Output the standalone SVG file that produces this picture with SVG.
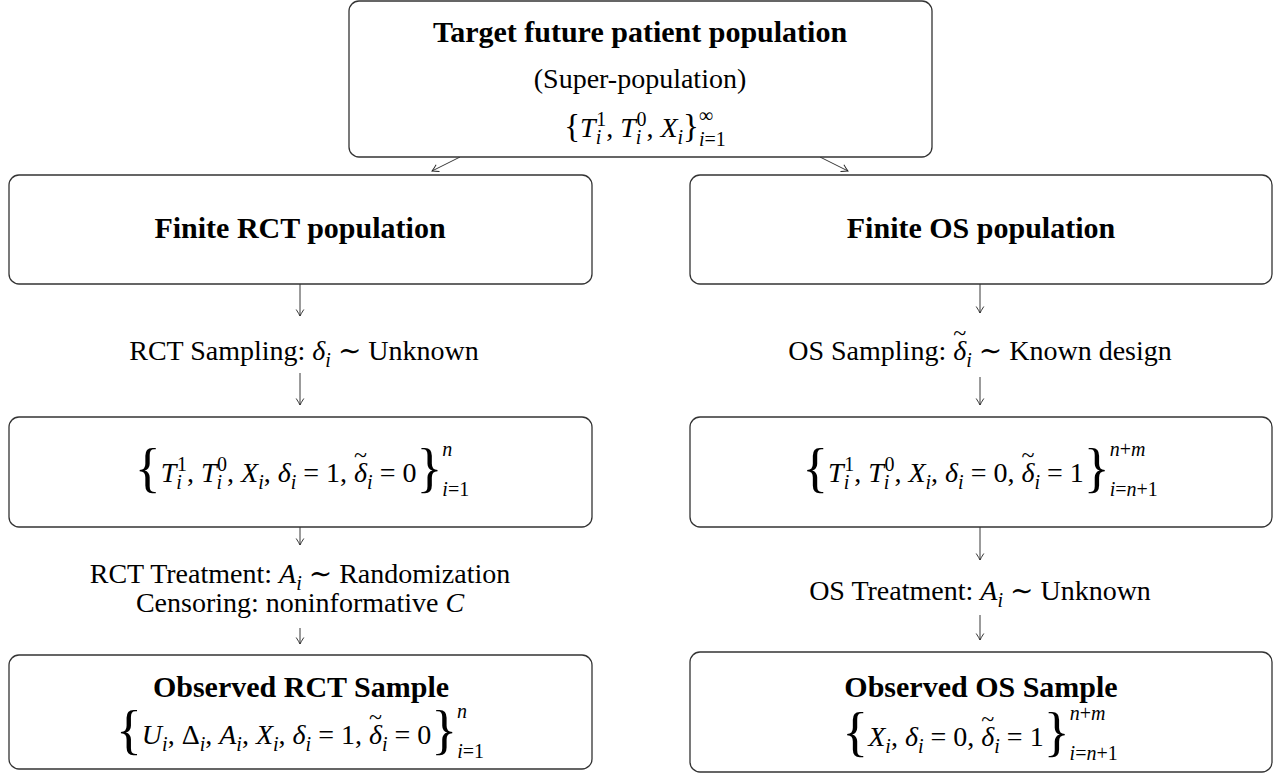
<svg xmlns="http://www.w3.org/2000/svg" width="1281" height="778" viewBox="0 0 1281 778">
<style>
text { font-family: "Liberation Serif","Times New Roman","DejaVu Serif",serif; font-size: 28px; fill: #000; }
.b { font-weight: bold; font-size: 30px; }
.i { font-style: italic; }
.s { font-size: 20px; }
.br { font-size: 54px; }
.br2 { font-size: 33px; }
.tl { font-size: 24px; }
.box { fill: #fff; stroke: #333; stroke-width: 1.3; }
.con line { stroke: #222; stroke-width: 0.9; marker-end: url(#ah); }
</style>
<defs>
<marker id="ah" viewBox="-8 -5 9 10" markerWidth="9" markerHeight="10" refX="0" refY="0" orient="auto" markerUnits="userSpaceOnUse">
<path d="M-6.5,-3.8 Q-2,-0.9 0,0 Q-2,0.9 -6.5,3.8" fill="none" stroke="#222" stroke-width="0.9"/>
</marker>
</defs>
<rect width="1281" height="778" fill="#fff"/>

<g class="con" id="connectors">
<line x1="460" y1="157" x2="432" y2="171"/>
<line x1="820" y1="157" x2="848" y2="171"/>
<line x1="300" y1="284" x2="300" y2="316"/>
<line x1="300" y1="373" x2="300" y2="405"/>
<line x1="300" y1="527" x2="300" y2="545"/>
<line x1="300" y1="628" x2="300" y2="644"/>
<line x1="980" y1="284" x2="980" y2="313"/>
<line x1="980" y1="377" x2="980" y2="405"/>
<line x1="980" y1="527" x2="980" y2="560"/>
<line x1="980" y1="615" x2="980" y2="640"/>
</g>

<g id="target">
<rect class="box" x="349" y="1" width="583" height="156" rx="10"/>
<text class="b" x="640" y="42" text-anchor="middle">Target future patient population</text>
<text x="640" y="88" text-anchor="middle">(Super-population)</text>
<text x="645" y="137" text-anchor="middle"><tspan class="br2">{</tspan><tspan class="i">T</tspan><tspan class="s i" dy="7">i</tspan><tspan class="s" dx="-5" dy="-18">1</tspan><tspan dy="11">, </tspan><tspan class="i">T</tspan><tspan class="s i" dy="7">i</tspan><tspan class="s" dx="-5" dy="-18">0</tspan><tspan dy="11">, </tspan><tspan class="i">X</tspan><tspan class="s i" dy="7">i</tspan><tspan class="br2" dy="-7">}</tspan><tspan class="s i" dy="9">i</tspan><tspan class="s">=1</tspan><tspan class="s" dx="-27" dy="-24">∞</tspan></text>
</g>

<g id="rct-pop">
<rect class="box" x="9" y="175" width="583" height="109" rx="10"/>
<text class="b" x="300" y="238" text-anchor="middle">Finite RCT population</text>
</g>

<g id="os-pop">
<rect class="box" x="690" y="175" width="582" height="109" rx="10"/>
<text class="b" x="981" y="238" text-anchor="middle">Finite OS population</text>
</g>

<g id="rct-sampling">
<text x="304" y="360" text-anchor="middle">RCT Sampling:  <tspan class="i">δ</tspan><tspan class="s i" dy="7">i</tspan><tspan dy="-7"> ∼ Unknown</tspan></text>
</g>

<g id="os-sampling">
<text x="980" y="360" text-anchor="middle">OS Sampling:  <tspan class="i">δ</tspan><tspan class="tl" dx="-13" dy="-19">~</tspan><tspan class="s i" dy="26">i</tspan><tspan dy="-7"> ∼ Known design</tspan></text>
</g>

<g id="rct-full">
<rect class="box" x="9" y="417" width="583" height="110" rx="10"/>
<text x="302" y="482" text-anchor="middle"><tspan class="br" dy="4">{</tspan><tspan class="i" dy="-4">T</tspan><tspan class="s i" dy="7">i</tspan><tspan class="s" dx="-5" dy="-18">1</tspan><tspan dy="11">, </tspan><tspan class="i">T</tspan><tspan class="s i" dy="7">i</tspan><tspan class="s" dx="-5" dy="-18">0</tspan><tspan dy="11">, </tspan><tspan class="i">X</tspan><tspan class="s i" dy="7">i</tspan><tspan dy="-7">, </tspan><tspan class="i">δ</tspan><tspan class="s i" dy="7">i</tspan><tspan dy="-7"> = 1, </tspan><tspan class="i">δ</tspan><tspan class="tl" dx="-13" dy="-19">~</tspan><tspan class="s i" dy="26">i</tspan><tspan dy="-7"> = 0</tspan><tspan class="br" dy="4">}</tspan><tspan class="s i" dy="10">i</tspan><tspan class="s">=1</tspan><tspan class="s i" dx="-27" dy="-40">n</tspan></text>
</g>

<g id="os-full">
<rect class="box" x="690" y="417" width="582" height="110" rx="10"/>
<text x="980" y="482" text-anchor="middle"><tspan class="br" dy="4">{</tspan><tspan class="i" dy="-4">T</tspan><tspan class="s i" dy="7">i</tspan><tspan class="s" dx="-5" dy="-18">1</tspan><tspan dy="11">, </tspan><tspan class="i">T</tspan><tspan class="s i" dy="7">i</tspan><tspan class="s" dx="-5" dy="-18">0</tspan><tspan dy="11">, </tspan><tspan class="i">X</tspan><tspan class="s i" dy="7">i</tspan><tspan dy="-7">, </tspan><tspan class="i">δ</tspan><tspan class="s i" dy="7">i</tspan><tspan dy="-7"> = 0, </tspan><tspan class="i">δ</tspan><tspan class="tl" dx="-13" dy="-19">~</tspan><tspan class="s i" dy="26">i</tspan><tspan dy="-7"> = 1</tspan><tspan class="br" dy="4">}</tspan><tspan class="s i" dy="10">i</tspan><tspan class="s">=</tspan><tspan class="s i">n</tspan><tspan class="s">+1</tspan><tspan class="s i" dx="-48" dy="-40">n</tspan><tspan class="s">+</tspan><tspan class="s i">m</tspan></text>
</g>

<g id="rct-treatment">
<text x="300" y="583" text-anchor="middle">RCT Treatment:  <tspan class="i">A</tspan><tspan class="s i" dy="7">i</tspan><tspan dy="-7"> ∼ Randomization</tspan></text>
<text x="300" y="612" text-anchor="middle">Censoring: noninformative <tspan class="i">C</tspan></text>
</g>

<g id="os-treatment">
<text x="980" y="600" text-anchor="middle">OS Treatment:  <tspan class="i">A</tspan><tspan class="s i" dy="7">i</tspan><tspan dy="-7"> ∼ Unknown</tspan></text>
</g>

<g id="rct-observed">
<rect class="box" x="9" y="655" width="583" height="114" rx="10"/>
<text class="b" x="301" y="697" text-anchor="middle">Observed RCT Sample</text>
<text x="300" y="744" text-anchor="middle"><tspan class="br" dy="4">{</tspan><tspan class="i" dy="-4">U</tspan><tspan class="s i" dy="7">i</tspan><tspan dy="-7">, Δ</tspan><tspan class="s i" dy="7">i</tspan><tspan dy="-7">, </tspan><tspan class="i">A</tspan><tspan class="s i" dy="7">i</tspan><tspan dy="-7">, </tspan><tspan class="i">X</tspan><tspan class="s i" dy="7">i</tspan><tspan dy="-7">, </tspan><tspan class="i">δ</tspan><tspan class="s i" dy="7">i</tspan><tspan dy="-7"> = 1, </tspan><tspan class="i">δ</tspan><tspan class="tl" dx="-13" dy="-19">~</tspan><tspan class="s i" dy="26">i</tspan><tspan dy="-7"> = 0</tspan><tspan class="br" dy="4">}</tspan><tspan class="s i" dy="10">i</tspan><tspan class="s">=1</tspan><tspan class="s i" dx="-27" dy="-40">n</tspan></text>
</g>

<g id="os-observed">
<rect class="box" x="690" y="652" width="582" height="120" rx="10"/>
<text class="b" x="981" y="697" text-anchor="middle">Observed OS Sample</text>
<text x="980" y="746" text-anchor="middle"><tspan class="br" dy="4">{</tspan><tspan class="i" dy="-4">X</tspan><tspan class="s i" dy="7">i</tspan><tspan dy="-7">, </tspan><tspan class="i">δ</tspan><tspan class="s i" dy="7">i</tspan><tspan dy="-7"> = 0, </tspan><tspan class="i">δ</tspan><tspan class="tl" dx="-13" dy="-19">~</tspan><tspan class="s i" dy="26">i</tspan><tspan dy="-7"> = 1</tspan><tspan class="br" dy="4">}</tspan><tspan class="s i" dy="10">i</tspan><tspan class="s">=</tspan><tspan class="s i">n</tspan><tspan class="s">+1</tspan><tspan class="s i" dx="-48" dy="-40">n</tspan><tspan class="s">+</tspan><tspan class="s i">m</tspan></text>
</g>
</svg>
